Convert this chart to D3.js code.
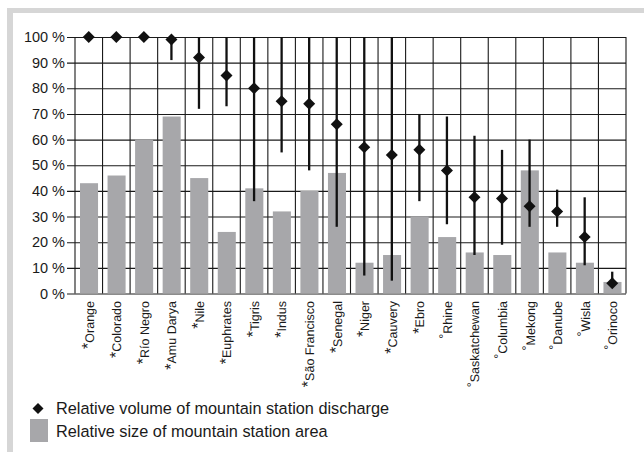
<!DOCTYPE html>
<html>
<head>
<meta charset="utf-8">
<script src="https://cdn.jsdelivr.net/npm/d3@7"></script>
<style>
  body { margin: 0; background: #fff; }
  svg { display: block; font-family: "Liberation Sans", Arial, Helvetica, sans-serif; }
</style>
</head>
<body>
<div id="chart"></div>
<script>
(() => {
    // river names and their marks (* or °)
    let rivers = ["Orange", "Colorado", "Río Negro", "Amu Darya", "Nile", "Euphrates", "Tigris", "Indus",
        "São Francisco", "Senegal", "Niger", "Cauvery", "Ebro", "Rhine", "Saskatchewan", "Columbia",
        "Mekong", "Danube", "Wisla", "Orinoco"];
    let marks = ["*", "*", "*", "*", "*", "*", "*", "*", "*", "*", "*", "*", "*",
        "°", "°", "°", "°", "°", "°", "°"];

    // relative size of mountain station area (%)
    let areaPct = [43, 46, 60, 69, 45, 24, 41, 32, 40, 47, 12, 15, 30, 22, 16, 15, 48, 16, 12, 4.5];

    // relative volume of mountain station discharge (%)
    let dischargePct = [100, 100, 100, 99, 92, 85, 80, 75, 74, 66, 57, 54, 56, 48, 37.5, 37, 34, 32, 22, 4];
    let rangeHigh = [100, 100, 100, 100, 100, 100, 100, 100, 100, 100, 100, 100, 70, 69, 61.5, 56, 60, 40.5, 37.5, 8.5];
    let rangeLow = [100, 100, 100, 91, 72, 73, 36, 55, 48, 26, 7, 5, 36, 27, 15, 19, 26, 26, 11, 3];

    let yTicks = [0, 10, 20, 30, 40, 50, 60, 70, 80, 90, 100];

    let w = 644;
    let h = 452;
    let left = 75, right = 626, top = 37, bottom = 293.5;

    let svg = d3.select("#chart")
        .append("svg")
        .attr("width", w)
        .attr("height", h);

    // light grey frame
    svg.append("rect").attr("x", 7).attr("y", 8).attr("width", w - 7).attr("height", 5).attr("fill", "#d6d6d6");
    svg.append("rect").attr("x", 7).attr("y", 8).attr("width", 6).attr("height", h - 8).attr("fill", "#d6d6d6");

    let x = d3.scaleBand().domain(rivers).range([left, right]).paddingInner(0).paddingOuter(0);
    let y = d3.scaleLinear().domain([0, 100]).range([bottom, top]);

    let data = rivers.map((r, i) => ({
        name: r, mark: marks[i], area: areaPct[i], q: dischargePct[i], lo: rangeLow[i], hi: rangeHigh[i]
    }));

    // horizontal grid + y labels
    let yAxis = d3.axisLeft(y)
        .tickValues(yTicks)
        .tickSize(-(right - left) - 8)
        .tickFormat((d) => d + " %");
    let gy = svg.append("g")
        .attr("transform", "translate(" + (right) + ",0)")
        .call(yAxis);
    gy.select(".domain").remove();
    gy.selectAll(".tick line")
        .attr("x1", 0)
        .attr("x2", -(right - left) - 8)
        .attr("stroke", "#1a1a1a")
        .attr("stroke-width", 1.1);
    gy.selectAll(".tick text")
        .attr("x", -(right - left) - 10)
        .attr("font-size", "14.5px")
        .attr("fill", "#1a1a1a")
        .attr("font-family", "'Liberation Sans', Arial, sans-serif");

    // bars
    svg.selectAll(".bar")
        .data(data)
        .enter()
        .append("rect")
        .attr("class", "bar")
        .attr("x", (d) => x(d.name) + 5)
        .attr("width", x.bandwidth() - 9.5)
        .attr("y", (d) => y(d.area))
        .attr("height", (d) => y(0) - y(d.area))
        .attr("fill", "#a7a7aa");

    // vertical grid at band edges
    let edges = rivers.map((r) => x(r)).concat([right]);
    svg.selectAll(".vgrid")
        .data(edges)
        .enter()
        .append("line")
        .attr("class", "vgrid")
        .attr("x1", (d) => d)
        .attr("x2", (d) => d)
        .attr("y1", top)
        .attr("y2", bottom)
        .attr("stroke", "#1a1a1a")
        .attr("stroke-width", 1.1);

    // range lines
    svg.selectAll(".range")
        .data(data.filter((d) => d.hi > d.lo))
        .enter()
        .append("line")
        .attr("class", "range")
        .attr("x1", (d) => x(d.name) + x.bandwidth() / 2)
        .attr("x2", (d) => x(d.name) + x.bandwidth() / 2)
        .attr("y1", (d) => y(d.hi))
        .attr("y2", (d) => y(d.lo))
        .attr("stroke", "#111")
        .attr("stroke-width", 2.3);

    // diamonds
    let diamond = (cx, cy, r) => "M" + cx + "," + (cy - r) + "L" + (cx + r) + "," + cy +
        "L" + cx + "," + (cy + r) + "L" + (cx - r) + "," + cy + "Z";
    svg.selectAll(".dia")
        .data(data)
        .enter()
        .append("path")
        .attr("class", "dia")
        .attr("d", (d) => diamond(x(d.name) + x.bandwidth() / 2, y(d.q), 6))
        .attr("fill", "#111");

    // x labels
    let lab = svg.selectAll(".xlab")
        .data(data)
        .enter()
        .append("text")
        .attr("class", "xlab")
        .attr("transform", (d) => "translate(" + (x(d.name) + x.bandwidth() / 2 + 5) + ",301) rotate(-90)")
        .attr("text-anchor", "end")
        .attr("font-size", "12.5px")
        .attr("fill", "#1a1a1a")
        .style("text-rendering", "geometricPrecision");
    lab.append("tspan")
        .attr("dy", (d) => d.mark === "*" ? "-0.05em" : "-0.3em")
        .attr("font-size", (d) => d.mark === "*" ? "16px" : "12.5px")
        .attr("fill", "#1a1a1a")
        .text((d) => d.mark);
    lab.append("tspan")
        .attr("dy", (d) => d.mark === "*" ? "0.05em" : "0.3em")
        .attr("fill", "#1a1a1a")
        .text((d) => d.name);

    // legend
    let lg = svg.append("g");
    lg.append("path").attr("d", diamond(38, 408.5, 5.5)).attr("fill", "#111");
    lg.append("text").attr("x", 56).attr("y", 414).attr("font-size", "16.3px").attr("fill", "#1a1a1a")
        .text("Relative volume of mountain station discharge");
    lg.append("rect").attr("x", 30).attr("y", 419).attr("width", 18).attr("height", 23).attr("fill", "#a7a7aa");
    lg.append("text").attr("x", 56).attr("y", 437).attr("font-size", "16.3px").attr("fill", "#1a1a1a")
        .text("Relative size of mountain station area");
})();
</script>
</body>
</html>
